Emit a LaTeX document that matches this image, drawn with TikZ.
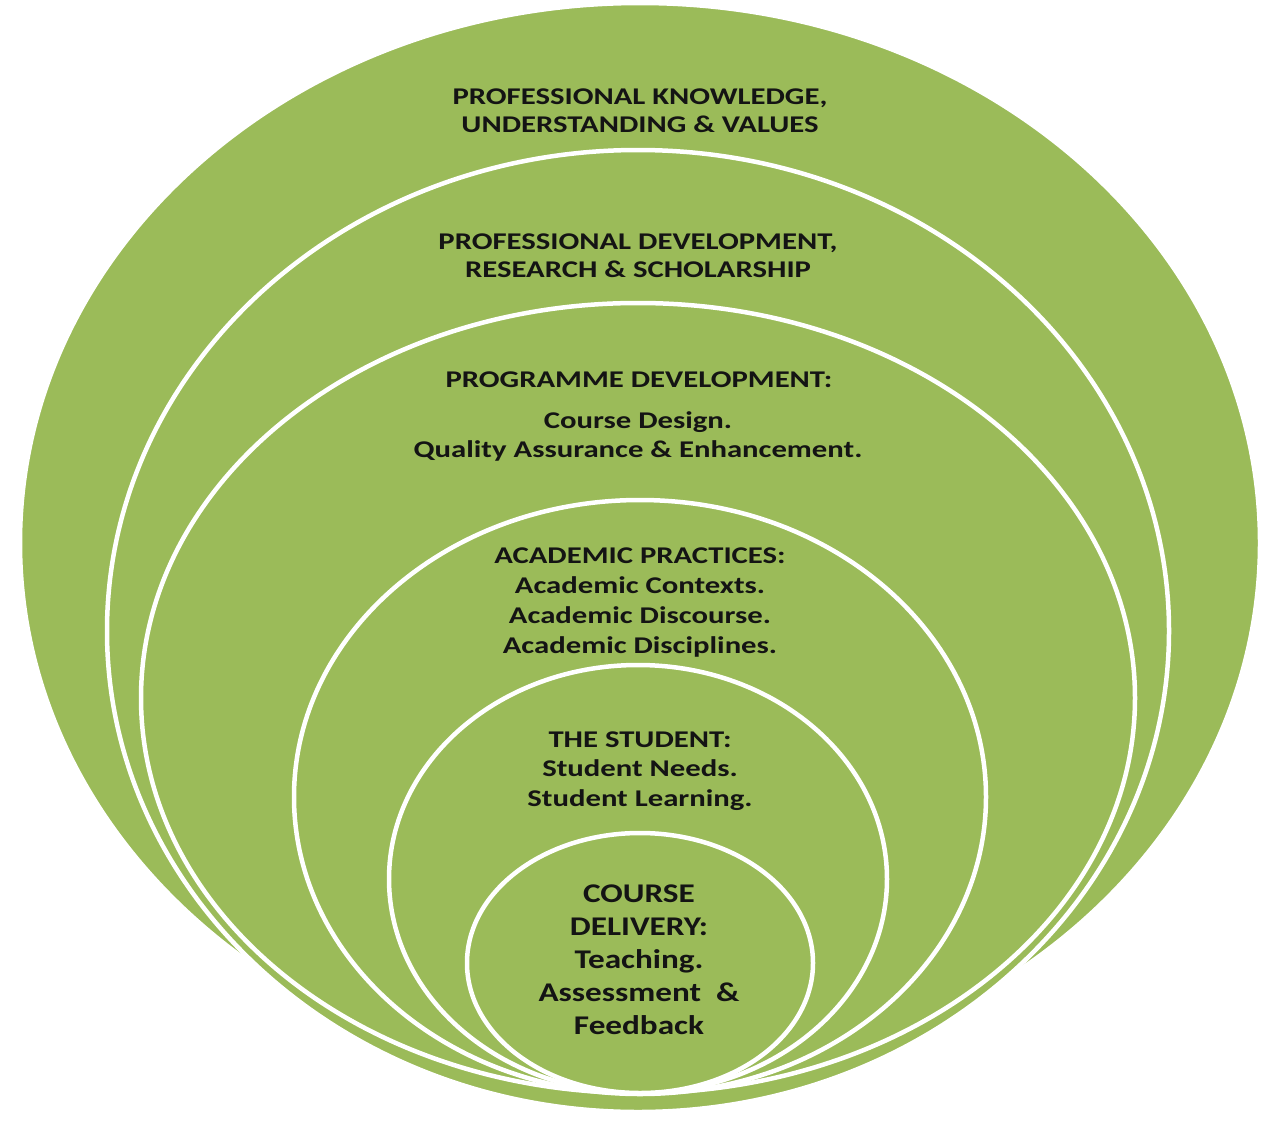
\documentclass[tikz,border=0pt]{standalone}
\usepackage{fontspec}
\setmainfont{Carlito}
\definecolor{leaf}{HTML}{9BBB59}
\begin{document}
\begin{tikzpicture}[x=1pt,y=1pt,
  ring/.style={fill=leaf, draw=white, line width=4.5pt},
  lbl/.style={align=center, inner sep=0pt, text=black!92, xscale=1.28, transform shape,
              font=\bfseries\fontsize{24}{28}\selectfont},
  lblwide/.style={lbl, font=\bfseries\fontsize{24}{30}\selectfont},
  lblbig/.style={lbl, xscale=1.23/1.28, font=\bfseries\fontsize{27}{33}\selectfont}]
\useasboundingbox (0,0) rectangle (1269,-1122);
% nested ellipses, outermost first
\path[ring] (640,-543) ellipse [x radius=620, y radius=540];
\path[ring] (638,-631) ellipse [x radius=531, y radius=481];
\path[ring] (638,-698) ellipse [x radius=497, y radius=395];
\path[ring] (640,-797) ellipse [x radius=346, y radius=297];
\path[ring] (638,-879) ellipse [x radius=249, y radius=214];
\path[ring] (640,-963) ellipse [x radius=173, y radius=130];
% labels
\node[lbl] (know) at (640,-111) {PROFESSIONAL KNOWLEDGE,\\UNDERSTANDING \& VALUES};
\node[lbl] (dev) at (638,-256) {PROFESSIONAL DEVELOPMENT,\\RESEARCH \& SCHOLARSHIP};
\node[lbl] (prog) at (639,-380) {PROGRAMME DEVELOPMENT:};
\node[lbl, font=\bfseries\fontsize{24}{29}\selectfont] (progb) at (638,-436) {Course Design.\\Quality Assurance \& Enhancement.};
\node[lblwide] (acad) at (640,-603) {ACADEMIC PRACTICES:\\Academic Contexts.\\Academic Discourse.\\Academic Disciplines.};
\node[lbl, font=\bfseries\fontsize{24}{29.5}\selectfont] (stud) at (640,-771) {THE STUDENT:\\Student Needs.\\Student Learning.};
\node[lblbig] (deliv) at (639,-960) {COURSE\\DELIVERY:\\Teaching.\\Assessment\ \ \&\\Feedback};
\end{tikzpicture}
\end{document}
